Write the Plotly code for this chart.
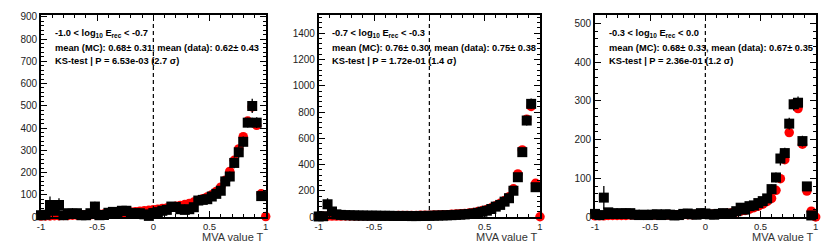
import plotly.graph_objects as go

# bin centres (51 bins of width 0.04, centred from -1.0 to 1.0)
bins = [round(-1.0 + 0.04 * i, 2) for i in range(51)]

# panel 1: -1.0 < log10 Erec < -0.7   (None = empty bin, not drawn)
data1 = [8, 10, 54, 28, 54, 8, 17, 15, 17, 8, 8, 17, 47, 8, 9, 19, 23, 22, 28, 28,
         17, 17, 17, 12, 5, 18, 22, 28, 32, 47, 45, 35, 32, 35, 44, 74, 77, 80, 92, 104,
         118, 160, 182, 243, 291, 338, 424, 499, 424, 94, None]
err1 = [8, 10, 38, 20, 30, 8, 12, 10, 12, 8, 8, 12, 22, 8, 8, 12, 12, 12, 14, 14,
        10, 10, 10, 8, 6, 10, 10, 12, 12, 14, 14, 12, 12, 12, 14, 18, 18, 18, 20, 20,
        20, 22, 22, 24, 26, 24, 22, 32, 24, 16, 0]
mc1 = [4, 5, 5, 6, 6, 7, 7, 8, 8, 9, 9, 10, 11, 12, 13, 14, 15, 17, 18, 20,
       22, 24, 26, 28, 30, 33, 35, 38, 41, 44, 48, 52, 56, 61, 67, 74, 82, 90, 100, 115,
       134, 165, 205, 255, 306, 361, 431, 495, 412, 104, 2]

# panel 2: -0.7 < log10 Erec < -0.3
data2 = [4, 6, 97, 42, 20, 16, 14, 13, 12, 11, 11, 10, 10, 10, 9, 9, 9, 8, 8, 8,
         8, 7, 7, 8, 8, 9, 10, 11, 12, 13, 14, 16, 18, 20, 23, 27, 32, 40, 48, 61,
         79, 92, 117, 143, 200, 303, 494, 735, 862, 227, None]
err2 = [6, 8, 45, 25, 14, 12, 10, 10, 10, 9, 9, 9, 9, 9, 8, 8, 8, 8, 8, 8,
        8, 7, 7, 8, 8, 8, 9, 9, 10, 10, 10, 11, 12, 12, 13, 14, 15, 16, 17, 18,
        20, 20, 22, 24, 26, 30, 34, 38, 40, 26, 0]
mc2 = [5, 6, 6, 7, 7, 7, 8, 8, 8, 8, 9, 9, 9, 9, 10, 10, 10, 10, 11, 11,
       11, 12, 12, 13, 13, 14, 15, 16, 17, 18, 20, 22, 24, 27, 30, 35, 41, 49, 58, 70,
       86, 104, 125, 155, 215, 328, 511, 745, 842, 257, 2]

# panel 3: -0.3 < log10 Erec < 0.0
data3 = [8, 5, 50, 12, 10, 8, 10, 9, 10, 6, 5, 6, 5, 6, 7, 5, 7, 6, 4, 5,
         8, 9, 7, 6, 10, 9, 7, 6, 8, 10, 8, 9, 15, 24, 19, 28, 30, 36, 41, 48,
         72, 102, 151, 165, 241, 291, 295, 196, 79, 4, None]
err3 = [5, 4, 30, 7, 6, 5, 6, 6, 6, 5, 4, 5, 4, 5, 5, 4, 5, 5, 4, 4,
        5, 6, 5, 5, 6, 6, 5, 5, 6, 6, 5, 6, 7, 9, 8, 9, 9, 10, 10, 11,
        12, 13, 18, 14, 15, 16, 16, 14, 10, 3, 0]
mc3 = [3, 3, 3, 4, 4, 4, 4, 4, 5, 5, 5, 5, 5, 5, 5, 5, 5, 5, 6, 6,
       6, 6, 6, 7, 7, 7, 7, 8, 8, 9, 10, 11, 13, 15, 17, 20, 24, 28, 33, 40,
       48, 69, 99, 148, 218, 292, 280, 188, 67, 15, 0]

labels = ["-1.0 &lt; log<sub>10</sub> E<sub>rec</sub> &lt; -0.7",
          "-0.7 &lt; log<sub>10</sub> E<sub>rec</sub> &lt; -0.3",
          "-0.3 &lt; log<sub>10</sub> E<sub>rec</sub> &lt; 0.0"]
means = ["mean (MC): 0.68\u00b1 0.31, mean (data): 0.62\u00b1 0.43",
         "mean (MC): 0.76\u00b1 0.30, mean (data): 0.75\u00b1 0.38",
         "mean (MC): 0.68\u00b1 0.33, mean (data): 0.67\u00b1 0.35"]
kstext = ["KS-test | P = 6.53e-03 (2.7 \u03c3)",
          "KS-test | P = 1.72e-01 (1.4 \u03c3)",
          "KS-test | P = 2.36e-01 (1.2 \u03c3)"]

yranges = [908, 1539, 521.5]
ydticks = [100, 200, 100]
yminor = [20, 40, 20]

W, H = 830, 252
frames_px = [(41, 265.7), (318.7, 540), (595, 815.7)]
top_px, bot_px = 15, 217

series = [(data1, err1, mc1), (data2, err2, mc2), (data3, err3, mc3)]

fig = go.Figure()
layout = dict(width=W, height=H, margin=dict(l=0, r=0, t=0, b=0, autoexpand=False),
              paper_bgcolor="white", plot_bgcolor="white", showlegend=False,
              font=dict(family="Liberation Sans, Arial, sans-serif", color="#222"))
annotations = []
shapes = []
ydom = [(H - bot_px) / H, (H - top_px) / H]

for k, (d, e, m) in enumerate(series):
    sfx = "" if k == 0 else str(k + 1)
    xa, ya = "x" + sfx, "y" + sfx
    fig.add_trace(go.Scatter(x=bins, y=m, mode="markers", xaxis=xa, yaxis=ya,
                             marker=dict(symbol="circle", size=9.5, color="#ff0000",
                                         line=dict(width=0)), cliponaxis=False))
    fig.add_trace(go.Scatter(x=bins, y=d, mode="markers", xaxis=xa, yaxis=ya,
                             error_y=dict(type="data", array=e, visible=True, width=0,
                                          thickness=1.3, color="black"),
                             marker=dict(symbol="square", size=10, color="black",
                                         line=dict(width=0)), cliponaxis=False))
    x0, x1 = frames_px[k]
    layout["xaxis" + sfx] = dict(
        domain=[x0 / W, x1 / W], range=[-1, 1], anchor=ya, automargin=False,
        showgrid=False, zeroline=False, showline=True, linecolor="black", linewidth=1.6,
        mirror="ticks", ticks="inside", ticklen=6, tickwidth=1, tickcolor="black",
        tickvals=[-1, -0.5, 0, 0.5, 1], ticktext=["-1", "-0.5", "0", "0.5", "1"],
        minor=dict(dtick=0.1, ticklen=3, ticks="inside", tickcolor="black", tick0=0),
        tickfont=dict(size=9.5, color="#222"))
    layout["yaxis" + sfx] = dict(
        domain=ydom, range=[0, yranges[k]], anchor=xa, automargin=False,
        showgrid=False, zeroline=False, showline=True, linecolor="black", linewidth=1.6,
        mirror="ticks", ticks="inside", ticklen=6, tickwidth=1, tickcolor="black",
        dtick=ydticks[k], tick0=0,
        minor=dict(dtick=yminor[k], ticklen=3, ticks="inside", tickcolor="black"),
        tickfont=dict(size=10, color="#222"))
    shapes.append(dict(type="line", xref=xa, yref=ya + " domain", x0=0, x1=0, y0=0, y1=0.97,
                       line=dict(color="black", width=1.2, dash="4px,3px")))
    tx = (x0 + 11.5) / W
    for j, (txt, ypx) in enumerate([(labels[k], 33.5), (means[k], 47.5), (kstext[k], 61)]):
        annotations.append(dict(text="<b>" + txt + "</b>", xref="paper", yref="paper",
                                x=tx, y=(H - ypx) / H, xanchor="left", yanchor="middle",
                                showarrow=False, font=dict(size=9.3, color="black")))
    annotations.append(dict(text="MVA value T", xref="paper", yref="paper",
                            x=x1 / W, y=(H - 237) / H, xanchor="right", yanchor="middle",
                            showarrow=False, font=dict(size=11, color="#333")))

layout["annotations"] = annotations
layout["shapes"] = shapes
fig.update_layout(**layout)
fig.write_html("out.html", config={"responsive": False, "displayModeBar": False},
               post_script="document.body.style.margin='0';document.body.style.overflow='hidden';")
